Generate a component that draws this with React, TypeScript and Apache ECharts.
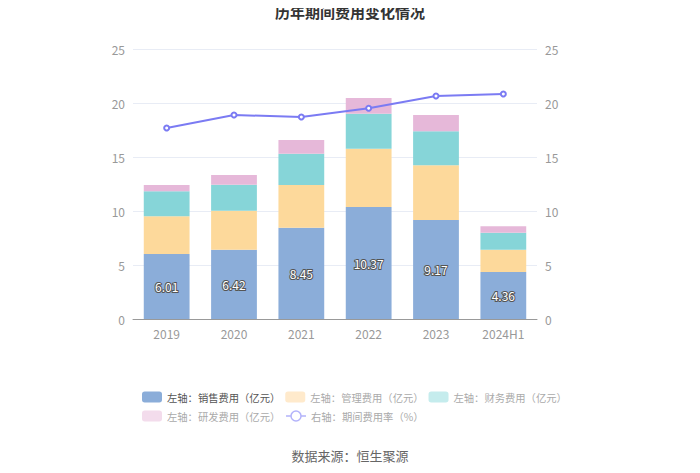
import React, { useEffect, useRef } from "react";
import * as echarts from "echarts";

const categories = ["2019", "2020", "2021", "2022", "2023", "2024H1"];
const salesExp = [6.01, 6.42, 8.45, 10.37, 9.17, 4.36];
const mgmtExp = [3.5, 3.61, 3.96, 5.4, 5.06, 2.06];
const finExp = [2.31, 2.41, 2.9, 3.24, 3.15, 1.57];
const rdExp = [0.59, 0.89, 1.26, 1.45, 1.51, 0.59];
const expRate = [17.69, 18.89, 18.7, 19.51, 20.65, 20.83];

const names = [
  "左轴：销售费用（亿元）",
  "左轴：管理费用（亿元）",
  "左轴：财务费用（亿元）",
  "左轴：研发费用（亿元）",
  "右轴：期间费用率（%）",
];

export default function App() {
  const ref = useRef<HTMLDivElement>(null);
  useEffect(() => {
    const chart = echarts.init(ref.current!, null, { renderer: "svg" });
    const font = "'Noto Sans CJK SC', sans-serif";
    const axisLabel = { color: "#999", fontSize: 12, fontFamily: font };
    chart.setOption({
      animation: false,
      textStyle: { fontFamily: font },
      title: {
        text: "历年期间费用变化情况",
        left: "center",
        top: 4,
        padding: 0,
        textStyle: { fontSize: 15, fontWeight: "bold", color: "#333", fontFamily: font },
      },
      graphic: [
        {
          type: "text",
          left: "center",
          top: 449,
          style: { text: "数据来源：恒生聚源", fill: "#666", fontSize: 13, fontFamily: font },
        },
      ],
      legend: {
        left: 142,
        top: 390,
        width: 440,
        padding: 0,
        itemWidth: 20,
        itemHeight: 11,
        itemGap: 5,
        textStyle: { fontSize: 10.3, color: "#aaa", fontFamily: font, lineHeight: 14 },
        data: [
          { name: names[0], textStyle: { color: "#555" }, itemStyle: { color: "#8badd9" } },
          { name: names[1], itemStyle: { color: "#ffeacc" } },
          { name: names[2], itemStyle: { color: "#c5eced" } },
          { name: names[3], itemStyle: { color: "#f3dcec" } },
          {
            name: names[4],
            icon: "path://M0,6 L6,6 A6,6 0 1,1 18,6 L24,6 M6,6 A6,6 0 1,0 18,6",
            itemStyle: { color: "#fff", borderColor: "#b3b3fa", borderWidth: 1.5 },
            lineStyle: { color: "#b3b3fa" },
          },
        ],
      },
      grid: { left: 133, right: 163, top: 49, bottom: 154 },
      xAxis: {
        type: "category",
        data: categories,
        axisLine: { lineStyle: { color: "#999" } },
        axisTick: { alignWithLabel: true, lineStyle: { color: "#999" } },
        axisLabel,
      },
      yAxis: [
        {
          type: "value",
          min: 0,
          max: 25,
          interval: 5,
          axisLabel,
          axisLine: { show: false },
          axisTick: { show: false },
          splitLine: { lineStyle: { color: "#e8ecf5" } },
        },
        {
          type: "value",
          min: 0,
          max: 25,
          interval: 5,
          axisLabel,
          axisLine: { show: false },
          axisTick: { show: false },
          splitLine: { show: false },
        },
      ],
      series: [
        {
          name: names[0],
          type: "bar",
          stack: "a",
          barWidth: "68%",
          data: salesExp,
          itemStyle: { color: "#8badd9" },
          label: {
            show: true,
            position: "inside",
            color: "#fff",
            fontSize: 12,
            textBorderColor: "#555",
            textBorderWidth: 2,
          },
        },
        { name: names[1], type: "bar", stack: "a", data: mgmtExp, itemStyle: { color: "#fdd99b" } },
        { name: names[2], type: "bar", stack: "a", data: finExp, itemStyle: { color: "#86d5d8" } },
        { name: names[3], type: "bar", stack: "a", data: rdExp, itemStyle: { color: "#e6b8d9" } },
        {
          name: names[4],
          type: "line",
          yAxisIndex: 1,
          data: expRate,
          symbol: "emptyCircle",
          symbolSize: 5,
          itemStyle: { color: "#7b7bf3" },
          lineStyle: { color: "#7b7bf3", width: 2 },
        },
      ],
    });
    return () => chart.dispose();
  }, []);
  return <div ref={ref} style={{ width: 700, height: 473, margin: -8 }} />;
}
